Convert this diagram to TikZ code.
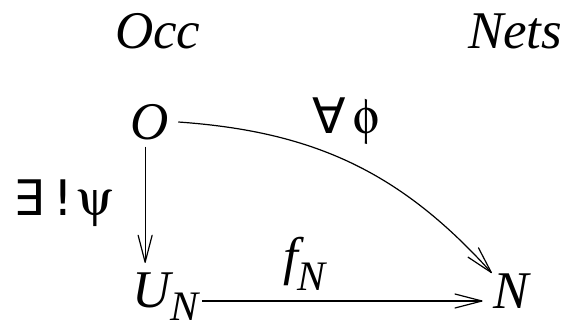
\documentclass[tikz,border=0pt]{standalone}
\usepackage{fontspec}
\usepackage{pifont}
\setmainfont{Liberation Serif}
\newfontfamily\fsans{DejaVu Sans}
\newcommand{\sy}[1]{\Pisymbol{psy}{#1}}
\pgfarrowsdeclare{vbarb}{vbarb}
{
  \pgfarrowsleftextend{-27pt}
  \pgfarrowsrightextend{1pt}
}
{
  \pgfsetdash{}{0pt}
  \pgfsetroundjoin
  \pgfsetroundcap
  \pgfpathmoveto{\pgfpoint{-27pt}{7pt}}
  \pgfpathlineto{\pgfpoint{0pt}{0pt}}
  \pgfpathlineto{\pgfpoint{-27pt}{-7pt}}
  \pgfusepathqstroke
}
\begin{document}
\begin{tikzpicture}[x=1pt,y=-1pt,
  lbl/.style={inner sep=0pt, outer sep=0pt, font=\fontsize{53}{60}\selectfont\itshape, anchor=base west},
  sym/.style={inner sep=0pt, outer sep=0pt, font=\fontsize{49}{56}\selectfont, anchor=base west},
  arr/.style={line width=1.2pt, -vbarb}]
\useasboundingbox (0,0) rectangle (570,324);
\node[lbl] (occ) at (115,48) {Occ};
\node[lbl] (nets) at (468,48) {Nets};
\node[lbl] (O) at (130,139) {O};
\node[lbl] (U) at (132,307) {U\raisebox{-13pt}{\fontsize{42}{48}\selectfont N}};
\node[lbl] (N) at (493,308) {N};
\node[lbl] (f) at (283,274) {f\raisebox{-16pt}{\fontsize{42}{48}\selectfont N}};
\node[sym] (psi) at (13,215) {{\fsans ∃}\hspace{10pt}{\fsans !}\hspace{4pt}{\fontsize{50}{56}\selectfont\sy{121}}};
\node[sym] (phi) at (312,133) {{\fsans ∀}\hspace{8pt}{\fontsize{50}{56}\selectfont\sy{102}}};
\draw[arr] ([xshift=-4pt,yshift=-7pt]O.south) -- ([xshift=-4pt,yshift=9pt]O.south |- U.north);
\draw[arr] ([xshift=4pt,yshift=6pt]U.base east) -- ([xshift=-10pt,yshift=7pt]N.base west);
\draw[arr] ([xshift=10pt,yshift=17pt]O.base east) to[out=-4,in=132] ([xshift=-1pt]N.north west);
\end{tikzpicture}
\end{document}
